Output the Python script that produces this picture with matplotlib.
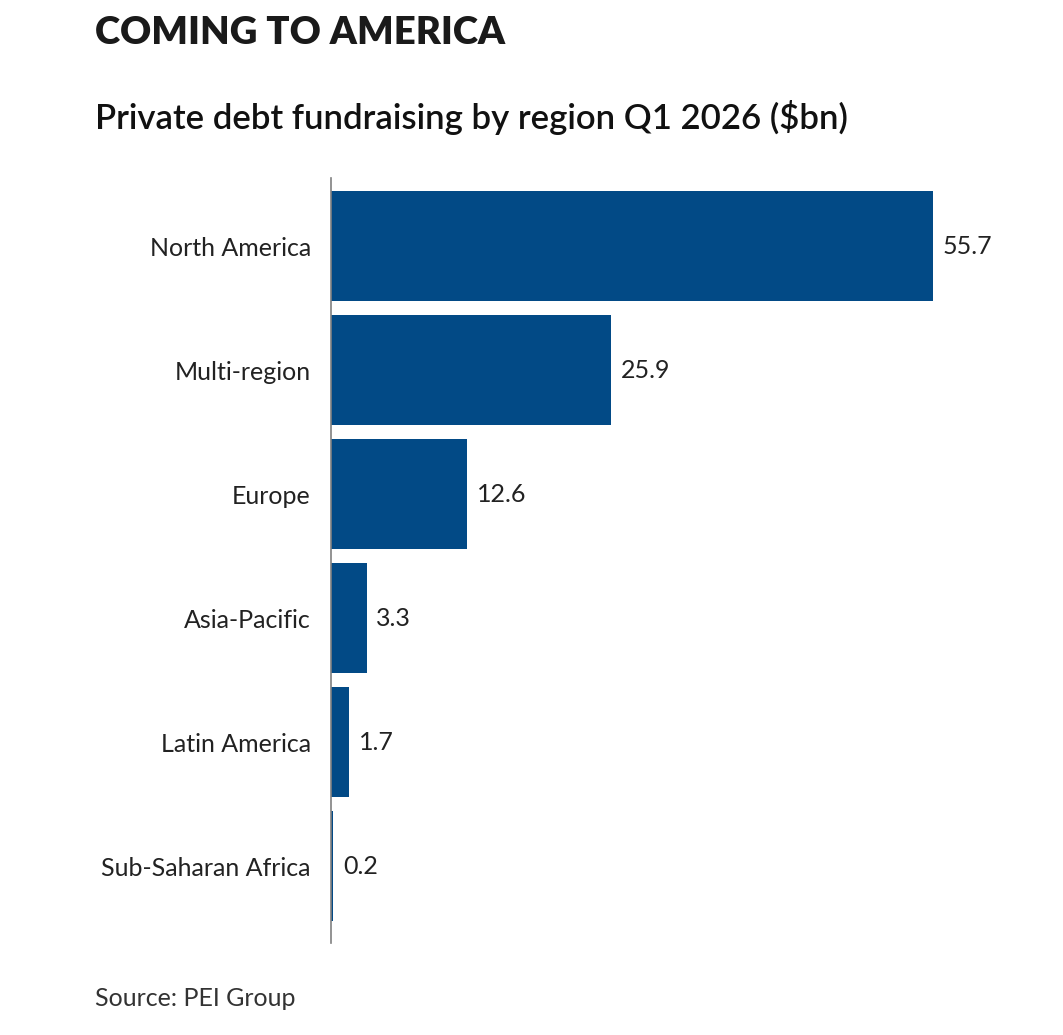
import matplotlib.pyplot as plt

# data
regions = ["North America", "Multi-region", "Europe", "Asia-Pacific",
           "Latin America", "Sub-Saharan Africa"]
values = [55.7, 25.9, 12.6, 3.3, 1.7, 0.2]
value_labels = ["55.7", "25.9", "12.6", "3.3", "1.7", "0.2"]

plt.rcParams['font.family'] = ['Lato', 'DejaVu Sans']

fig = plt.figure(figsize=(10.63, 10.35), dpi=100)
ax = fig.add_axes([0.3114, 0.0889, 0.629, 0.739])

ypos = list(range(len(regions)))
ax.barh(ypos, values, height=0.887, color="#024a86")

for y, v, lab in zip(ypos, values, value_labels):
    ax.text(v + 0.9, y, lab, va="center", ha="left", fontsize=18, color="#222222")

ax.set_yticks(ypos)
ax.set_yticklabels(regions, fontsize=18, color="#222222")
ax.tick_params(axis="y", length=0, pad=14.5)
ax.set_xticks([])
ax.set_xlim(0, 61.9)
ax.set_ylim(5.62, -0.55)

for s in ["top", "right", "bottom"]:
    ax.spines[s].set_visible(False)
ax.spines["left"].set_color("#808080")
ax.spines["left"].set_linewidth(1.2)

fig.text(0.089, 0.968, "COMING TO AMERICA", fontsize=27.5, fontweight="heavy",
         color="#1a1a1a", va="center", ha="left")
fig.text(0.089, 0.886, "Private debt fundraising by region Q1 2026 ($bn)",
         fontsize=25, fontweight="semibold", color="#111111", va="center", ha="left")
fig.text(0.089, 0.035, "Source: PEI Group", fontsize=18, color="#333333",
         va="center", ha="left")

plt.savefig("out.png", dpi=100)
